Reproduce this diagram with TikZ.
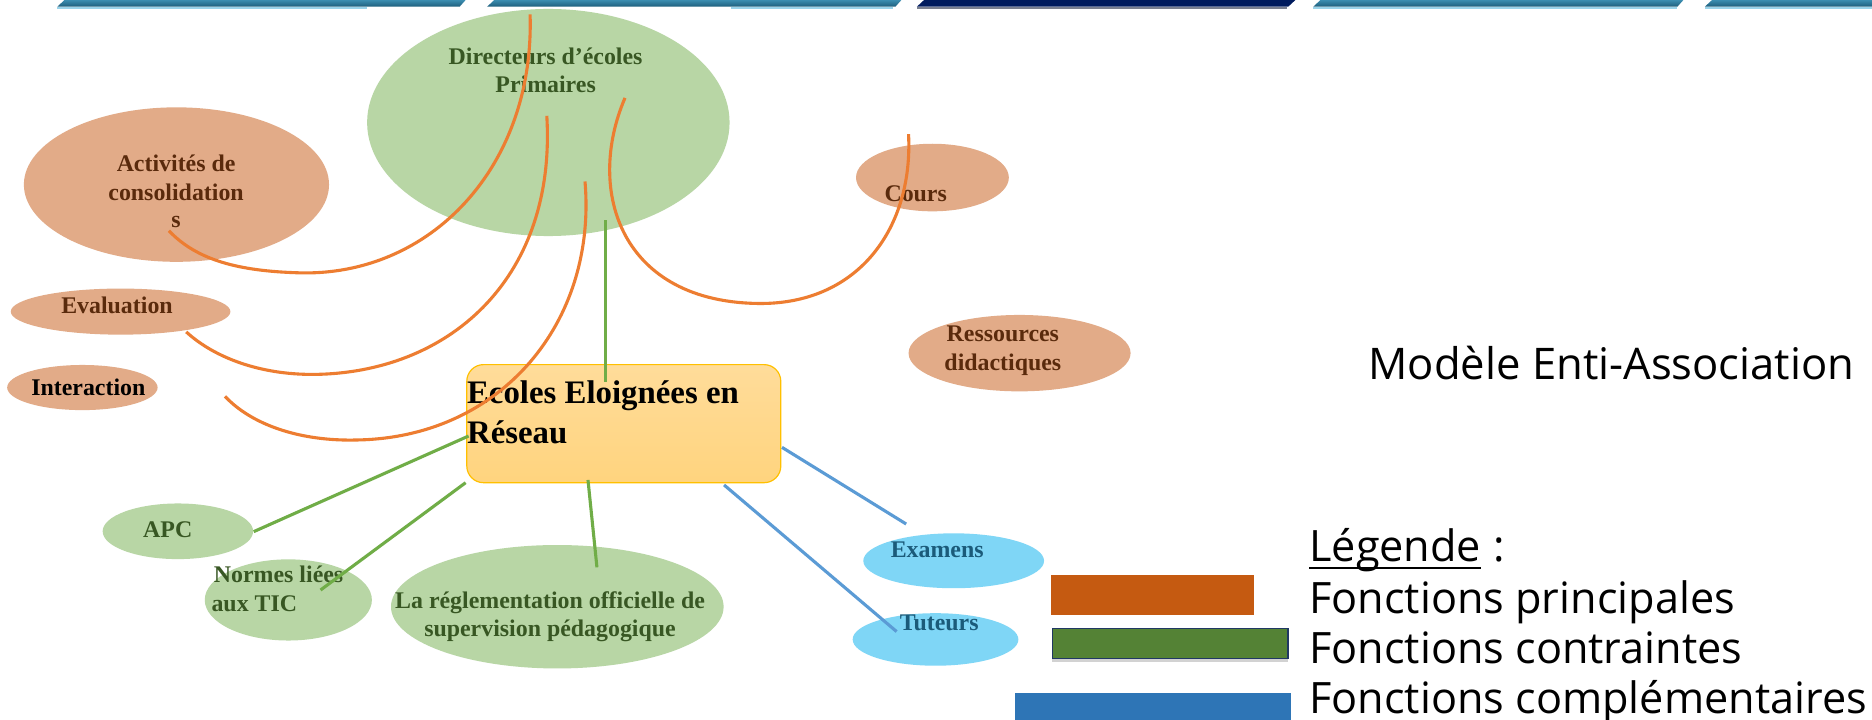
\documentclass[tikz,border=0pt]{standalone}
\usepackage{fontspec}
\setmainfont{Liberation Serif}
\newfontfamily\legfont{Open Sans}
\usetikzlibrary{shapes.geometric,shadows}
\definecolor{ellgreen}{HTML}{B8D6A5}
\definecolor{elltan}{HTML}{E2AB88}
\definecolor{ellblue}{HTML}{7FD6F6}
\definecolor{boxtop}{HTML}{FFDC9A}
\definecolor{boxbot}{HTML}{FFD47E}
\definecolor{boxline}{HTML}{FFC000}
\definecolor{corange}{HTML}{ED7D31}
\definecolor{cgreen}{HTML}{70AD47}
\definecolor{cblue}{HTML}{5B9BD5}
\definecolor{tgreen}{HTML}{385723}
\definecolor{tbrown}{HTML}{5A2A0C}
\definecolor{tteal}{HTML}{1B5B7A}
\definecolor{legorange}{HTML}{C55A11}
\definecolor{leggreen}{HTML}{548235}
\definecolor{legblue}{HTML}{2E75B6}
\definecolor{legnavy}{HTML}{203864}
\definecolor{barlight}{HTML}{3B8DB0}
\definecolor{bardark}{HTML}{1E5E7C}
\definecolor{barstrip}{HTML}{9AD3EA}
\definecolor{navy}{HTML}{001B5E}
\definecolor{navystrip}{HTML}{7A8090}
\begin{document}
\begin{tikzpicture}[x=1pt,y=-1pt,
  greenell/.style={ellipse, fill=ellgreen, draw=none, inner sep=0pt},
  tanell/.style={ellipse, fill=elltan, draw=none, inner sep=0pt},
  blueell/.style={ellipse, fill=ellblue, draw=none, inner sep=0pt},
  ntxt/.style={inner sep=0pt, anchor=base, font={\bfseries\fontsize{20}{24}\selectfont}},
  bigtxt/.style={inner sep=0pt, anchor=base west, font={\bfseries\fontsize{27.5}{34}\selectfont}},
  legtxt/.style={inner sep=0pt, anchor=base west, font={\legfont\fontsize{36.2}{42}\selectfont}},
  orangec/.style={draw=corange, line width=2.6pt},
  greenc/.style={draw=cgreen, line width=2.6pt},
  bluec/.style={draw=cblue, line width=2.6pt},
  legrect/.style={rectangle, draw=none, inner sep=0pt},
  barseg/.style={top color=barlight, bottom color=bardark, draw=none}
]
\useasboundingbox (0,0) rectangle (1568,603);
\fill[white] (0,0) rectangle (1568,603);

% top banner
\shade[barseg] (48,5.6) -- (54,0) -- (390,0) -- (385,5.6) -- cycle;
\shade[barseg] (408,5.6) -- (414,0) -- (755,0) -- (750,5.6) -- cycle;
\fill[navy] (768,5.6) -- (774,0) -- (1085,0) -- (1079,5.6) -- cycle;
\shade[barseg] (1100,5.6) -- (1106,0) -- (1410,0) -- (1405,5.6) -- cycle;
\shade[barseg] (1428,5.6) -- (1434,0) -- (1570,0) -- (1570,5.6) -- cycle;
\fill[barstrip] (48,5.6) rectangle (307,7.3);
\fill[barstrip] (612,5.6) rectangle (748,7.3);
\fill[navystrip] (768,5.6) rectangle (1078,7.3);
\fill[barstrip] (1100,5.6) rectangle (1405,7.3);
\fill[barstrip] (1428,5.6) rectangle (1568,7.3);

% shapes
\node[greenell, minimum width=303.6pt, minimum height=190.2pt] (dir) at (459.3,102.6) {};
\node[tanell, minimum width=255.6pt, minimum height=129.4pt] (act) at (147.8,154.6) {};
\node[tanell, minimum width=184pt, minimum height=38.6pt] (eval) at (101,261) {};
\node[tanell, minimum width=126pt, minimum height=37.8pt] (inter) at (69,324.6) {};
\node[tanell, minimum width=128pt, minimum height=56.6pt] (cours) at (781,148.7) {};
\node[tanell, minimum width=186pt, minimum height=64pt] (res) at (854,295.8) {};
\node[greenell, minimum width=126pt, minimum height=46.6pt] (apc) at (149,445) {};
\node[greenell, minimum width=140pt, minimum height=68pt] (normes) at (241.5,502.5) {};
\node[greenell, minimum width=278.6pt, minimum height=103.4pt] (regl) at (466.8,508.2) {};
\node[blueell, minimum width=151.4pt, minimum height=46pt] (exam) at (798.8,469.7) {};
\node[blueell, minimum width=138.8pt, minimum height=44pt] (tut) at (783.6,535.6) {};
\node[rectangle, rounded corners=14pt, top color=boxtop, bottom color=boxbot,
      draw=boxline, line width=1pt, inner sep=0pt,
      minimum width=263pt, minimum height=98.9pt] (box) at (522.5,354.85) {};

% texts
\node[ntxt, text=tgreen] (tdir1) at (457,54) {Directeurs d'écoles};
\node[ntxt, text=tgreen] (tdir2) at (457,77.4) {Primaires};
\node[ntxt, text=tbrown] (tact1) at (147.5,143.9) {Activités de};
\node[ntxt, text=tbrown] (tact2) at (147.5,167.6) {consolidation};
\node[ntxt, text=tbrown] (tact3) at (147.5,190.8) {s};
\node[ntxt, text=tbrown] (teval) at (98,262.6) {Evaluation};
\node[ntxt, text=black] (tinter) at (74,330.9) {Interaction};
\node[ntxt, text=tbrown] (tcours) at (767,169) {Cours};
\node[ntxt, text=tbrown] (tres1) at (840,286.3) {Ressources};
\node[ntxt, text=tbrown] (tres2) at (840,310) {didactiques};
\node[ntxt, text=tgreen] (tapc) at (140.5,450.3) {APC};
\node[ntxt, text=tgreen, anchor=base west] (tnor1) at (179,488) {Normes liées};
\node[ntxt, text=tgreen, anchor=base west] (tnor2) at (177,512.3) {aux TIC};
\node[ntxt, text=tgreen] (treg1) at (460.7,509.5) {La réglementation officielle de};
\node[ntxt, text=tgreen] (treg2) at (460.7,533.5) {supervision pédagogique};
\node[ntxt, text=tteal] (texam) at (785,467.1) {Examens};
\node[ntxt, text=tteal] (ttut) at (786.7,528.2) {Tuteurs};
\node[bigtxt] (tbox1) at (391,337.8) {Ecoles Eloignées en};
\node[bigtxt] (tbox2) at (391,371.3) {Réseau};

% connector end points
\coordinate (o1s) at (444,12);    \coordinate (o1e) at (141.5,193.3);
\coordinate (o2s) at (458,97);    \coordinate (o2e) at (156,278);
\coordinate (o3s) at (490,152);   \coordinate (o3e) at (188.5,332);
\coordinate (o4s) at (523.5,82);  \coordinate (o4e) at (761,112.3);
\coordinate (g1s) at (507.5,184.4); \coordinate (g1e) at (507.5,319.7);
\coordinate (g2s) at (392.5,365.2); \coordinate (g2e) at (212.5,445.3);
\coordinate (g3s) at (390,404.3);   \coordinate (g3e) at (268.5,494.2);
\coordinate (g4s) at (492.5,402);   \coordinate (g4e) at (500,475.2);
\coordinate (b1s) at (655,374.7);   \coordinate (b1e) at (759,438.9);
\coordinate (b2s) at (606.5,406.2); \coordinate (b2e) at (751,529);

% orange connectors
\draw[orangec] (o1s) .. controls (448,140) and (360,232) .. (250,228.5)
               .. controls (200,227) and (165,218) .. (o1e);
\draw[orangec] (o2s) .. controls (466,230) and (380,310) .. (268,313.5)
               .. controls (220,315) and (180,300) .. (o2e);
\draw[orangec] (o3s) .. controls (500,270) and (420,366) .. (300,368.5)
               .. controls (250,370) and (210,355) .. (o3e);
\draw[orangec] (o4s) .. controls (490,160) and (520,254) .. (637.5,254.2)
               .. controls (720,254) and (765,190) .. (o4e);

% green connectors
\draw[greenc] (g1s) -- (g1e);
\draw[greenc] (g2s) -- (g2e);
\draw[greenc] (g3s) -- (g3e);
\draw[greenc] (g4s) -- (g4e);

% blue connectors
\draw[bluec] (b1s) -- (b1e);
\draw[bluec] (b2s) -- (b2e);

% title
\node[legtxt, font={\legfont\fontsize{36.5}{42}\selectfont}] (title) at (1146,317.7) {Modèle Enti-Association};

% legend
\node[legrect, fill=legorange, minimum width=170pt, minimum height=33.5pt] (lg1) at (965.5,498.45) {};
\node[legrect, fill=leggreen, draw=legnavy, line width=1.5pt,
      drop shadow={shadow xshift=0pt, shadow yshift=-3pt, opacity=0.35},
      minimum width=197.5pt, minimum height=25.1pt] (lg2) at (980.25,538.95) {};
\node[legrect, fill=legblue, minimum width=231pt, minimum height=22.2pt] (lg3) at (966,591.9) {};
\node[legtxt] (lgT) at (1096.5,470.5) {Légende};
\draw[line width=2pt] ([yshift=-5.5pt]lgT.base west) -- ([yshift=-5.5pt]lgT.base east);
\node[legtxt] (lgC) at ([xshift=9.5pt]lgT.base east) {:};
\node[legtxt] (lgt1) at (1096.5,513.8) {Fonctions principales};
\node[legtxt] (lgt2) at (1096.5,555.7) {Fonctions contraintes};
\node[legtxt] (lgt3) at (1096.5,597.6) {Fonctions complémentaires};
\end{tikzpicture}
\end{document}
